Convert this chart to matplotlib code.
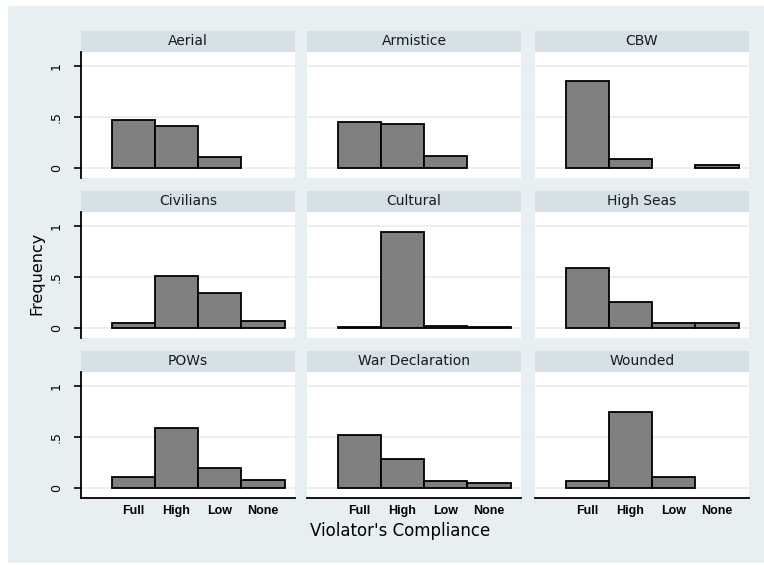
import matplotlib
matplotlib.use("Agg")
from matplotlib import pyplot as plt
from matplotlib.patches import Rectangle

compliance = ['Full', 'High', 'Low', 'None']
positions = [1, 2, 3, 4]

aerial = [0.47, 0.41, 0.11, 0.0]
armistice = [0.45, 0.43, 0.12, 0.0]
cbw = [0.855, 0.09, 0.0, 0.03]
civilians = [0.045, 0.51, 0.34, 0.065]
cultural = [0.006, 0.94, 0.02, 0.006]
high_seas = [0.59, 0.255, 0.05, 0.05]
pows = [0.11, 0.59, 0.20, 0.075]
war_decl = [0.52, 0.28, 0.065, 0.045]
wounded = [0.065, 0.75, 0.105, 0.0]

titles = ['Aerial', 'Armistice', 'CBW',
          'Civilians', 'Cultural', 'High Seas',
          'POWs', 'War Declaration', 'Wounded']
series = [aerial, armistice, cbw,
          civilians, cultural, high_seas,
          pows, war_decl, wounded]

W, H = 764, 565
bg = '#e8eff2'
strip_col = '#d5e1e7'
grid_col = '#e6eef0'

fig = plt.figure(figsize=(W / 100, H / 100), dpi=100)
fig.patch.set_facecolor(bg)
# white margins around the graph region
for rect in [(0, 0, 7 / W, 1), (0, 0, 1, 2 / H), (0, 1 - 5 / H, 1, 5 / H)]:
    fig.patches.append(Rectangle(rect[:2], rect[2], rect[3],
                                 transform=fig.transFigure,
                                 color='white', zorder=-1))

col_x = [81, 307, 535]
col_w = 214
row_top = [31, 191, 351]
strip_h = 21
plot_h = 126

for i, (title, vals) in enumerate(zip(titles, series)):
    r, c = divmod(i, 3)
    x0 = col_x[c]
    y_strip = row_top[r]
    y_plot = y_strip + strip_h

    # strip with panel title
    sax = fig.add_axes([x0 / W, 1 - y_plot / H, col_w / W, strip_h / H])
    sax.set_facecolor(strip_col)
    sax.set_xticks([])
    sax.set_yticks([])
    for s in sax.spines.values():
        s.set_visible(False)
    sax.text(0.5, 0.52, title, ha='center', va='center', fontsize=10,
             color='#1a1a1a', transform=sax.transAxes)

    ax = fig.add_axes([x0 / W, 1 - (y_plot + plot_h) / H, col_w / W, plot_h / H])
    ax.set_facecolor('white')
    # empty categories get no bar at all
    xs = [p for p, v in zip(positions, vals) if v > 0]
    hs = [v for v in vals if v > 0]
    ax.bar(xs, hs, width=1.0, color='#808080', edgecolor='black',
           linewidth=1.3, zorder=3)
    ax.set_xlim(-0.21, 4.74)
    ax.set_ylim(-0.1, 1.14)
    ax.set_yticks([0, 0.5, 1])
    ax.set_yticklabels(['0', '.5', '1'], rotation=90, va='center', fontsize=9)
    ax.yaxis.grid(True, color=grid_col, linewidth=1.2, zorder=0)
    ax.set_axisbelow(True)
    for s in ax.spines.values():
        s.set_visible(False)

    if c == 0:
        ax.spines['left'].set_visible(True)
        ax.spines['left'].set_linewidth(1.3)
        ax.tick_params(axis='y', length=5, width=1.2, pad=8)
    else:
        ax.tick_params(axis='y', left=False, labelleft=False)

    if r == 2:
        ax.spines['bottom'].set_visible(True)
        ax.spines['bottom'].set_linewidth(1.3)
        ax.set_xticks(positions)
        ax.set_xticklabels(compliance, fontsize=9, fontweight='bold',
                           family='Liberation Sans')
        ax.tick_params(axis='x', length=0, pad=5)
    else:
        ax.set_xticks([])

fig.text(37 / W, 1 - 273 / H, 'Frequency', rotation=90, ha='center',
         va='center', fontsize=11.5)
fig.text(400 / W, 1 - 531 / H, "Violator's Compliance", ha='center',
         va='center', fontsize=12)

fig.savefig('out.png', dpi=100, facecolor=fig.get_facecolor())
